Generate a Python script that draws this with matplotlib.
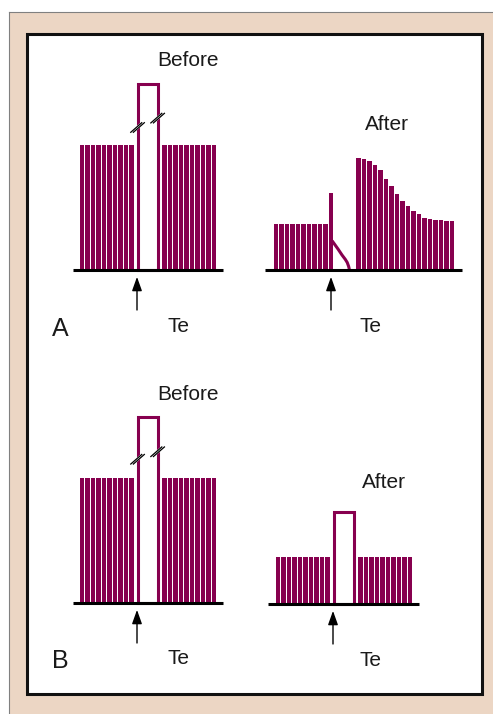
import matplotlib
matplotlib.use("Agg")
import matplotlib.pyplot as plt
from matplotlib.patches import Rectangle

# bar heights, 1.0 = normal level before treatment
before_left = [1.0, 1.0, 1.0, 1.0, 1.0, 1.0, 1.0, 1.0, 1.0, 1.0]
before_right = [1.0, 1.0, 1.0, 1.0, 1.0, 1.0, 1.0, 1.0, 1.0, 1.0]
before_peak = 1.49

a_after_left = [0.37, 0.37, 0.37, 0.37, 0.37, 0.37, 0.37, 0.37, 0.37, 0.37]
a_after_spike = 0.62
a_after_right = [0.90, 0.885, 0.875, 0.84, 0.80, 0.73, 0.67, 0.61, 0.55,
                 0.51, 0.475, 0.445, 0.42, 0.41, 0.40, 0.40, 0.395, 0.39]
# tail running down from the spike
tail_x = [10.36, 11.27, 12.0, 12.6, 12.95, 13.2, 13.3, 13.32]
tail_y = [0.224, 0.168, 0.12, 0.085, 0.06, 0.03, 0.012, 0.0]

b_after_left = [0.38, 0.38, 0.38, 0.38, 0.38, 0.38, 0.38, 0.38, 0.38, 0.38]
b_after_right = [0.38, 0.38, 0.38, 0.38, 0.38, 0.38, 0.38, 0.38, 0.38, 0.38]
b_after_peak = 0.74

te_pos = 10          # arrow position (Te)
left_x = list(range(0, 10))
right_x = list(range(15, 25))
a_right_x = list(range(15, 33))

BAR = "#87004F"
W, H = 493, 714
PX_X, PX_Y = 5.5, 125.0   # pixels per data unit


def panel(x0, base):
    # axes placed so data x=0 sits at pixel x0 and y=0 at pixel row base
    xl, xr, yb, yt = -4, 36, -0.6, 1.8
    left = x0 + xl * PX_X
    bottom = base - yb * PX_Y
    ax = fig.add_axes([left / W, 1 - bottom / H,
                       (xr - xl) * PX_X / W, (yt - yb) * PX_Y / H])
    ax.set_xlim(xl, xr)
    ax.set_ylim(yb, yt)
    ax.axis("off")
    ax.patch.set_visible(False)
    return ax


def baseline_arrow(ax, x1, x2):
    ax.hlines(0, x1, x2, color="black", lw=2.2, zorder=5)
    ax.annotate("", xy=(te_pos, -0.055), xytext=(te_pos, -0.32),
                arrowprops=dict(arrowstyle="-|>,head_width=0.25,head_length=0.7",
                                color="black", lw=1.0, mutation_scale=12,
                                shrinkA=0, shrinkB=0))


def tall_bar(ax, h):
    ax.bar(12, h, width=3.65, facecolor="white", edgecolor=BAR, lw=2.2, zorder=3)


def break_mark(ax, xe, ye):
    dx, dy = 5.5 / PX_X, 4.8 / PX_Y
    ax.plot([xe - dx, xe + dx], [ye - dy, ye + dy], color="white", lw=2.4,
            solid_capstyle="butt", zorder=4)
    off = 1.3 / PX_X
    for o in (-off, off):
        ax.plot([xe - dx + o, xe + dx + o], [ye - dy, ye + dy], color="black",
                lw=0.9, zorder=4)


fig = plt.figure(figsize=(W / 100, H / 100), dpi=100)

bg = fig.add_axes([0, 0, 1, 1])
bg.set_xlim(0, W)
bg.set_ylim(H, 0)
bg.axis("off")
bg.add_patch(Rectangle((8.5, 11.5), W, H, facecolor="#ECD6C4", lw=0))
bg.plot([8.5, 8.5], [H, 11.5], color="#808080", lw=0.8)
bg.plot([8.5, W], [11.5, 11.5], color="#808080", lw=0.8)
bg.add_patch(Rectangle((26.5, 33.5), 455, 660, facecolor="white",
                       edgecolor="#111111", lw=2.2))

plt.rcParams["font.family"] = ["Liberation Sans", "DejaVu Sans"]
txt = dict(ha="center", va="center", color="#1a1a1a")
bg.text(188, 61, "Before", fontsize=15, **txt)
bg.text(387, 124, "After", fontsize=15, **txt)
bg.text(178, 327, "Te", fontsize=15, **txt)
bg.text(370, 327, "Te", fontsize=15, **txt)
bg.text(60, 329, "A", fontsize=18, **txt)
bg.text(188, 395, "Before", fontsize=15, **txt)
bg.text(384, 482, "After", fontsize=15, **txt)
bg.text(178, 659, "Te", fontsize=15, **txt)
bg.text(371, 660, "Te", fontsize=15, **txt)
bg.text(60, 661, "B", fontsize=18, **txt)

# A - before
ax = panel(82, 270)
ax.bar(left_x, before_left, width=0.75, color=BAR, zorder=2)
ax.bar(right_x, before_right, width=0.75, color=BAR, zorder=2)
tall_bar(ax, before_peak)
break_mark(ax, 10.1, 1.14)
break_mark(ax, 13.75, 1.215)
baseline_arrow(ax, -1.6, 25.6)

# A - after
ax = panel(276, 270)
ax.bar(left_x, a_after_left, width=0.75, color=BAR, zorder=2)
ax.bar(te_pos, a_after_spike, width=0.75, color=BAR, zorder=2)
ax.plot(tail_x, tail_y, color=BAR, lw=2.2, zorder=2)
ax.bar(a_right_x, a_after_right, width=0.75, color=BAR, zorder=2)
baseline_arrow(ax, -2.0, 33.8)

# B - before
ax = panel(82, 603)
ax.bar(left_x, before_left, width=0.75, color=BAR, zorder=2)
ax.bar(right_x, before_right, width=0.75, color=BAR, zorder=2)
tall_bar(ax, before_peak)
break_mark(ax, 10.1, 1.15)
break_mark(ax, 13.75, 1.21)
baseline_arrow(ax, -1.6, 25.6)

# B - after
ax = panel(278, 604)
ax.bar(left_x, b_after_left, width=0.75, color=BAR, zorder=2)
ax.bar(right_x, b_after_right, width=0.75, color=BAR, zorder=2)
tall_bar(ax, b_after_peak)
baseline_arrow(ax, -1.8, 25.6)

fig.savefig("out.png", dpi=100)
